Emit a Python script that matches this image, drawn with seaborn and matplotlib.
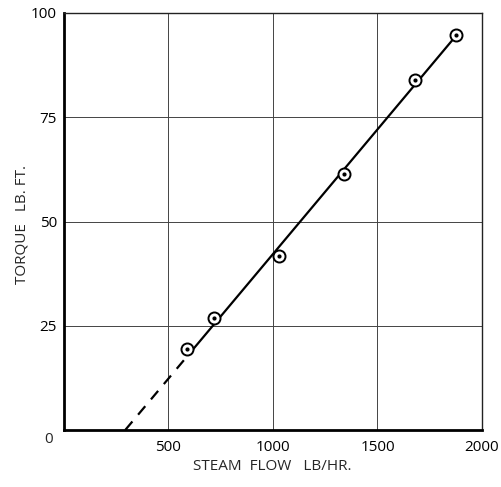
import matplotlib
matplotlib.use("Agg")
import matplotlib.pyplot as plt
import seaborn as sns
import pandas as pd

# Measured points
steam_flow = [588, 716, 1029, 1341, 1679, 1874]
torque = [19.4, 26.9, 41.7, 61.3, 83.9, 94.8]

# Fitted line
fit_dashed_x = [293, 620]
fit_dashed_y = [0.0, 19.5]
fit_solid_x = [620, 1880]
fit_solid_y = [19.5, 94.8]

x_ticks = [500, 1000, 1500, 2000]
x_labels = ["500", "1000", "1500", "2000"]
y_ticks = [25, 50, 75, 100]
y_labels = ["25", "50", "75", "100"]

sns.set_style("white")
plt.rcParams['font.family'] = ['Open Sans', 'DejaVu Sans']

fig = plt.figure(figsize=(5.01, 4.87), dpi=100)
ax = fig.add_axes([64/501, 1-430/487, (482-64)/501, (430-13)/487])

pts = pd.DataFrame({"flow": steam_flow, "torque": torque})
dash = pd.DataFrame({"flow": fit_dashed_x, "torque": fit_dashed_y})
solid = pd.DataFrame({"flow": fit_solid_x, "torque": fit_solid_y})

sns.lineplot(data=dash, x="flow", y="torque", ax=ax, color="black", lw=1.6,
             linestyle=(0, (5, 4)), zorder=3)
sns.lineplot(data=solid, x="flow", y="torque", ax=ax, color="black", lw=1.6, zorder=3)
sns.scatterplot(data=pts, x="flow", y="torque", ax=ax, s=75, marker="o",
                facecolor="white", edgecolor="black", linewidth=1.4, zorder=4)
sns.scatterplot(data=pts, x="flow", y="torque", ax=ax, s=9, marker="o",
                color="black", linewidth=0, zorder=5)

ax.set_xlim(0, 2000)
ax.set_ylim(0, 100)
ax.set_xticks(x_ticks)
ax.set_xticklabels(x_labels)
ax.set_yticks(y_ticks)
ax.set_yticklabels(y_labels)
ax.grid(True, color="#444444", lw=0.7)
ax.set_axisbelow(True)

for side in ["left", "bottom"]:
    ax.spines[side].set_linewidth(2.0)
    ax.spines[side].set_color("black")
for side in ["top", "right"]:
    ax.spines[side].set_linewidth(1.0)
    ax.spines[side].set_color("#222222")

ax.tick_params(axis="both", direction="out", length=3, width=0.8, colors="black",
               labelsize=11, pad=2)
ax.tick_params(axis="x", pad=4)

ax.text(-0.038, -0.022, "0", transform=ax.transAxes, ha="center", va="center",
        fontsize=11)

ax.set_xlabel("STEAM  FLOW   LB/HR.")
ax.set_ylabel("TORQUE   LB. FT.")
ax.xaxis.label.set_fontsize(11)
ax.yaxis.label.set_fontsize(11)
ax.xaxis.set_label_coords(272/501, 1-467/487, transform=fig.transFigure)
ax.yaxis.set_label_coords(22/501, 1-225/487, transform=fig.transFigure)
ax.xaxis.label.set_va("center")
ax.yaxis.label.set_va("center")

fig.savefig("out.png", dpi=100, facecolor="white")
